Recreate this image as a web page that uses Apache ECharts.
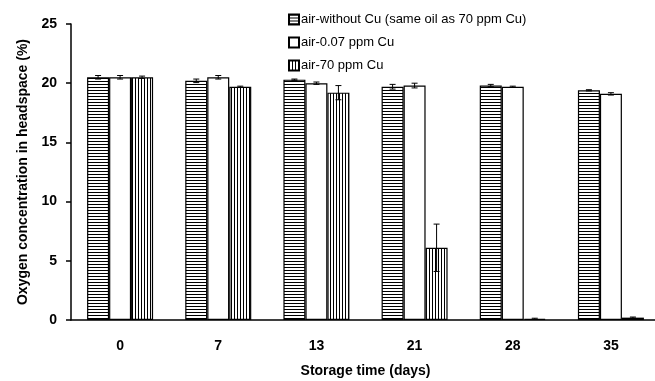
<!DOCTYPE html>
<html>
<head>
<meta charset="utf-8">
<script src="https://cdn.jsdelivr.net/npm/echarts@6/dist/echarts.min.js"></script>
<style>
  html, body { margin: 0; padding: 0; background: #ffffff; }
  #chart { width: 655px; height: 381px; }
</style>
</head>
<body>
<div id="chart"></div>
<script>
// Datos
const days = ['0', '7', '13', '21', '28', '35'];
const seriesNames = ['air-without Cu (same oil as 70 ppm Cu)', 'air-0.07 ppm Cu', 'air-70 ppm Cu'];
const noCu = [20.5, 20.2, 20.3, 19.7, 19.8, 19.4];
const lowCu = [20.5, 20.5, 20.0, 19.8, 19.7, 19.1];
const highCu = [20.5, 19.7, 19.2, 6.1, 0.1, 0.2];
const noCuErr = [0.15, 0.15, 0.05, 0.2, 0.1, 0.05];
const lowCuErr = [0.15, 0.15, 0.1, 0.2, 0.05, 0.1];
const highCuErr = [0.1, 0.05, 0.6, 2.0, 0.05, 0.05];
const yTicks = [0, 5, 10, 15, 20, 25];

const FONT = '"Liberation Sans", Arial, sans-serif';
const BAR_W = 22;

// Patrones de relleno (rayas)
function stripes(horizontal) {
  const c = document.createElement('canvas');
  c.width = 3; c.height = 3;
  const ctx = c.getContext('2d');
  ctx.fillStyle = '#ffffff';
  ctx.fillRect(0, 0, 3, 3);
  ctx.fillStyle = '#000000';
  if (horizontal) ctx.fillRect(0, 0, 3, 1);
  else ctx.fillRect(0, 0, 1, 3);
  return { image: c, repeat: 'repeat' };
}

const fills = [stripes(true), '#ffffff', stripes(false)];
const values = [noCu, lowCu, highCu];
const errors = [noCuErr, lowCuErr, highCuErr];
const offsets = [-BAR_W, 0, BAR_W];

const chart = echarts.init(document.getElementById('chart'));

const barSeries = seriesNames.map((name, i) => ({
  name: name,
  type: 'bar',
  xAxisIndex: 0,
  data: values[i],
  barWidth: BAR_W,
  barGap: '0%',
  itemStyle: { color: fills[i], borderColor: '#000', borderWidth: 1.2 },
  emphasis: { disabled: true },
  z: 2
}));

// Barras de error
const errSeries = seriesNames.map((name, i) => ({
  type: 'custom',
  xAxisIndex: 0,
  z: 5,
  silent: true,
  data: values[i].map((v, k) => [k, v, errors[i][k]]),
  renderItem: function (params, api) {
    const idx = api.value(0), v = api.value(1), e = api.value(2);
    const top = api.coord([idx, v + e]);
    const bot = api.coord([idx, v - e]);
    const x = top[0] + offsets[i];
    const style = { stroke: '#000', lineWidth: 1 };
    return {
      type: 'group',
      children: [
        { type: 'line', shape: { x1: x, y1: top[1], x2: x, y2: bot[1] }, style: style },
        { type: 'line', shape: { x1: x - 3, y1: top[1], x2: x + 3, y2: top[1] }, style: style },
        { type: 'line', shape: { x1: x - 3, y1: bot[1], x2: x + 3, y2: bot[1] }, style: style }
      ]
    };
  }
}));

const option = {
  backgroundColor: '#ffffff',
  animation: false,
  legend: {
    data: seriesNames,
    orient: 'vertical',
    left: 288,
    top: 13,
    padding: 0,
    icon: 'rect',
    itemWidth: 10,
    itemHeight: 10,
    itemGap: 10,
    textStyle: { fontFamily: FONT, fontSize: 13, color: '#000', padding: [0, 0, 0, -3] }
  },
  grid: { left: 71, right: -5, top: 24, bottom: 61, outerBoundsMode: 'none' },
  xAxis: [{
    type: 'category',
    data: days,
    name: 'Storage time (days)',
    nameLocation: 'middle',
    nameGap: 44,
    nameTextStyle: { fontFamily: FONT, fontSize: 14, fontWeight: 'bold', color: '#000' },
    axisLine: { lineStyle: { color: '#000', width: 1.5 } },
    axisTick: { length: 6, lineStyle: { color: '#000', width: 1.5 } },
    axisLabel: { margin: 19, fontFamily: FONT, fontSize: 14, fontWeight: 'bold', color: '#000' },
    splitLine: { show: false }
  }, {
    type: 'category',
    data: days,
    position: 'bottom',
    axisLine: { show: false },
    axisTick: { inside: true, length: 5, lineStyle: { color: '#000', width: 1.5 } },
    axisLabel: { show: false },
    splitLine: { show: false }
  }],
  yAxis: {
    type: 'value',
    min: yTicks[0],
    max: yTicks[yTicks.length - 1],
    interval: 5,
    name: 'Oxygen concentration in headspace (%)',
    nameLocation: 'middle',
    nameGap: 41,
    nameTextStyle: { fontFamily: FONT, fontSize: 14, fontWeight: 'bold', color: '#000' },
    axisLine: { show: true, lineStyle: { color: '#000', width: 1.5 } },
    axisTick: { show: true, length: 5, lineStyle: { color: '#000', width: 1.5 } },
    axisLabel: { margin: 14, fontFamily: FONT, fontSize: 14, fontWeight: 'bold', color: '#000' },
    splitLine: { show: false }
  },
  series: barSeries.concat(errSeries)
};

chart.setOption(option);
</script>
</body>
</html>
